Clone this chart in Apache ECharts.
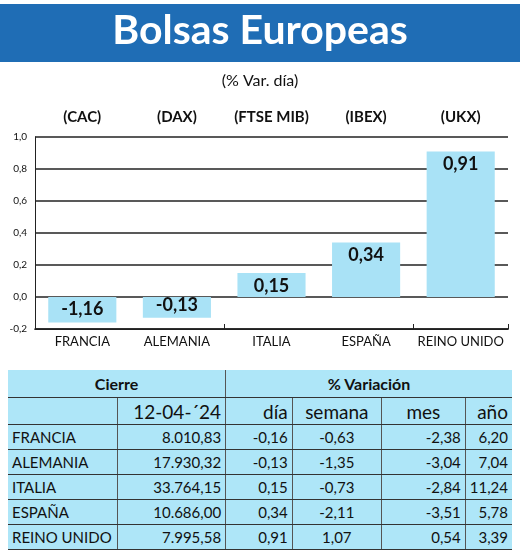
<!DOCTYPE html>
<html><head><meta charset="utf-8">
<script src="https://cdn.jsdelivr.net/npm/echarts@6/dist/echarts.min.js"></script>
<style>
body{margin:0;background:#fff;font-family:Lato,"Open Sans",sans-serif}
#c{width:520px;height:550px;position:absolute;left:0;top:0}
#t{position:absolute;left:8px;top:370px;width:504px;border-collapse:collapse;background:#aee6f8;font-family:Lato,sans-serif;font-size:15px;color:#111}
#t td{padding:0 4px;height:24px;border-bottom:1px solid #333;border-left:1px solid #555}
#t td:first-child{border-left:none}
#t tr.h1 td{height:27px;font-weight:bold;text-align:center;font-size:16px}
#t tr.h2 td{height:26px;font-size:19px;text-align:right}
</style></head><body>
<div id="c"></div>
<table id="t"></table>
<script>
const countries=["FRANCIA","ALEMANIA","ITALIA","ESPAÑA","REINO UNIDO"];
const indices=["(CAC)","(DAX)","(FTSE MIB)","(IBEX)","(UKX)"];
const dayValues=[-0.16,-0.13,0.15,0.34,0.91];
const barLabels=["-1,16","-0,13","0,15","0,34","0,91"];
const cierre=["8.010,83","17.930,32","33.764,15","10.686,00","7.995,58"];
const dia=["-0,16","-0,13","0,15","0,34","0,91"];
const semana=["-0,63","-1,35","-0,73","-2,11","1,07"];
const mes=["-2,38","-3,04","-2,84","-3,51","0,54"];
const anio=["6,20","7,04","11,24","5,78","3,39"];
const yTicks=[-0.2,0,0.2,0.4,0.6,0.8,1.0];

const chart=echarts.init(document.getElementById('c'));
chart.setOption({
  animation:false,
  textStyle:{fontFamily:'Lato'},
  graphic:[
    {type:'rect',shape:{x:0,y:4,width:520,height:58},style:{fill:'#1f6db5'}},
    {type:'text',left:'center',top:10,style:{text:'Bolsas Europeas',fill:'#fff',font:'bold 41px Lato'}},
    {type:'text',left:'center',top:73,style:{text:'(% Var. día)',fill:'#111',font:'16px Lato'}}
  ],
  grid:{left:35,right:12,top:137,height:192},
  xAxis:[
    {type:'category',data:countries,position:'bottom',
     axisLine:{onZero:false,lineStyle:{color:'#222'}},axisTick:{show:false},
     axisLabel:{color:'#111',fontSize:13,margin:6,interval:0}},
    {type:'category',data:indices,position:'top',
     axisLine:{show:false},axisTick:{show:false},
     axisLabel:{color:'#111',fontSize:15,fontWeight:'bold',margin:12,interval:0}},
    {type:'category',data:countries,position:'bottom',
     axisLine:{onZero:true,lineStyle:{color:'#222',width:1.5}},axisTick:{show:true,length:-5,lineStyle:{color:'#222'}},
     axisLabel:{show:false}}
  ],
  yAxis:{type:'value',min:-0.2,max:1.0,interval:0.2,
    axisLine:{show:true,lineStyle:{color:'#222'}},
    axisLabel:{color:'#111',fontSize:10,formatter:v=>v.toFixed(1).replace('.',',')},
    splitLine:{lineStyle:{color:'#222',width:1.5}}},
  series:[{type:'bar',xAxisIndex:0,barWidth:'72%',
    data:dayValues.map(v=>({value:v,label:{position:v<0?'insideBottom':'insideTop'}})),
    itemStyle:{color:'#a9e2f6'},
    label:{show:true,fontSize:18,fontWeight:'bold',color:'#111',
      formatter:p=>barLabels[p.dataIndex],distance:4}}]
});

const t=document.getElementById('t');
let html='<tr class="h1"><td colspan="2" style="width:215px">Cierre</td><td colspan="4">% Variación</td></tr>';
html+='<tr class="h2"><td style="width:100px"></td><td style="width:99px">12-04-´24</td><td style="width:60px">día</td><td style="width:82px;text-align:center">semana</td><td style="width:79px;text-align:center">mes</td><td>año</td></tr>';
countries.forEach((c,i)=>{
  html+=`<tr><td>${c}</td><td style="text-align:right">${cierre[i]}</td><td style="text-align:right">${dia[i]}</td><td style="text-align:center">${semana[i]}</td><td style="text-align:right">${mes[i]}</td><td style="text-align:right">${anio[i]}</td></tr>`;
});
t.innerHTML=html;
</script></body></html>
